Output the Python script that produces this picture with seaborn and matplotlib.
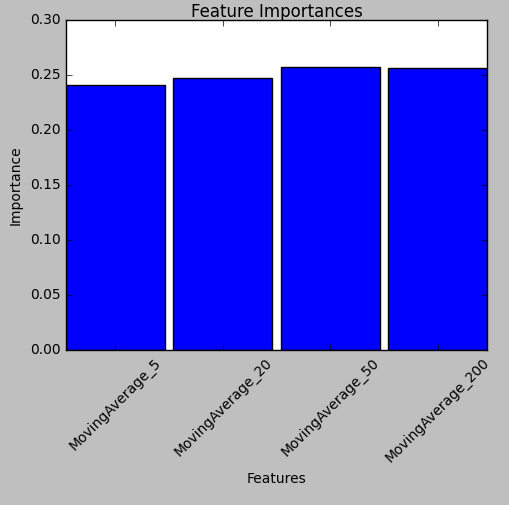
import matplotlib
matplotlib.use('Agg')
import matplotlib.pyplot as plt
import seaborn as sns
import pandas as pd

features = ['MovingAverage_5', 'MovingAverage_20', 'MovingAverage_50', 'MovingAverage_200']
importances = [0.241, 0.247, 0.257, 0.256]

df = pd.DataFrame({'Features': features, 'Importance': importances})

plt.style.use('classic')
fig = plt.figure(figsize=(5.1, 5.05), dpi=100)
ax = fig.add_axes([66/510, 155/505, 421/510, 330/505])
sns.barplot(data=df, x='Features', y='Importance', color='blue', saturation=1,
            edgecolor='black', linewidth=1, width=0.92, ax=ax)
ax.set_xlim(-0.46, 3.46)
ax.set_ylim(0, 0.30)
ax.set_title('Feature Importances', fontsize=12, pad=2)
ax.set_xlabel('Features', fontsize=10)
ax.set_ylabel('Importance', fontsize=10)
ax.tick_params(labelsize=10)
plt.setp(ax.get_xticklabels(), rotation=45)
fig.savefig('out.png', dpi=100, facecolor=fig.get_facecolor())
